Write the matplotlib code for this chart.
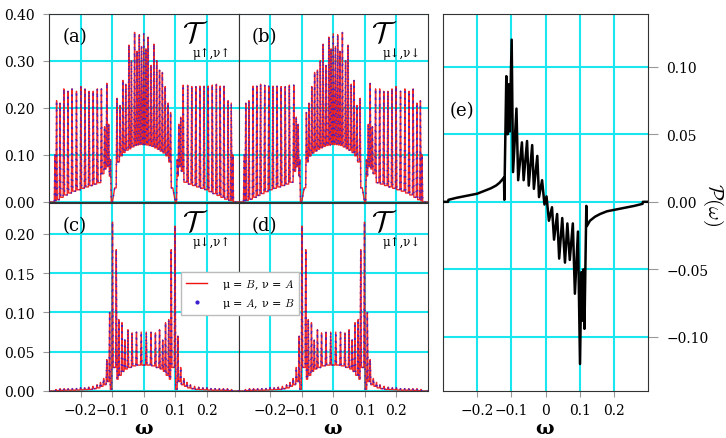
import numpy as np
import matplotlib
matplotlib.use("Agg")
import matplotlib.pyplot as plt
from matplotlib.lines import Line2D

plt.rcParams['font.family'] = 'DejaVu Serif'
plt.rcParams['mathtext.fontset'] = 'cm'

# panel (a): T_{up,up}, resonance peaks and the troughs between them
a_peak_w = [-0.281, -0.276, -0.265, -0.253, -0.240, -0.227, -0.213, -0.199, -0.186, -0.173, -0.160, -0.147,
            -0.134, -0.124, -0.117, -0.111, -0.105,
            -0.085, -0.075, -0.066, -0.057, -0.047, -0.039, -0.029, -0.021, -0.014, -0.007, 0.000, 0.007,
            0.014, 0.023, 0.032, 0.041, 0.050, 0.059, 0.068, 0.077, 0.085,
            0.106, 0.111, 0.117, 0.125, 0.139, 0.152, 0.165, 0.178, 0.191, 0.204, 0.217, 0.230, 0.242,
            0.254, 0.267, 0.277, 0.282]
a_peak_t = [0.100, 0.215, 0.210, 0.240, 0.235, 0.240, 0.235, 0.245, 0.240, 0.235, 0.235, 0.240,
            0.240, 0.160, 0.252, 0.165, 0.090,
            0.220, 0.205, 0.258, 0.250, 0.333, 0.300, 0.360, 0.320, 0.355, 0.330, 0.357, 0.325,
            0.350, 0.290, 0.335, 0.300, 0.280, 0.275, 0.245, 0.210, 0.190,
            0.090, 0.165, 0.180, 0.248, 0.248, 0.245, 0.245, 0.246, 0.246, 0.246, 0.248, 0.250, 0.246,
            0.246, 0.215, 0.210, 0.100]
a_trough_w = [-0.285, -0.279, -0.271, -0.259, -0.246, -0.233, -0.220, -0.206, -0.192, -0.179, -0.166, -0.153,
              -0.140, -0.129, -0.120, -0.114, -0.108, -0.099, -0.092,
              -0.080, -0.070, -0.061, -0.052, -0.043, -0.034, -0.025, -0.0175, -0.0105, -0.0035, 0.0035,
              0.0105, 0.0185, 0.0275, 0.0365, 0.0455, 0.0545, 0.0635, 0.0725, 0.081,
              0.092, 0.100, 0.1085, 0.114, 0.121, 0.132, 0.145, 0.158, 0.171, 0.184, 0.197, 0.210,
              0.223, 0.236, 0.248, 0.260, 0.272, 0.2795, 0.285]
a_trough_t = [0.0, 0.002, 0.005, 0.010, 0.015, 0.019, 0.023, 0.026, 0.029, 0.032, 0.035, 0.038,
              0.041, 0.060, 0.070, 0.075, 0.055, 0.0, 0.030,
              0.085, 0.098, 0.105, 0.110, 0.113, 0.117, 0.120, 0.121, 0.122, 0.122, 0.122,
              0.121, 0.120, 0.118, 0.115, 0.112, 0.108, 0.104, 0.098, 0.085,
              0.030, 0.0, 0.055, 0.075, 0.065, 0.042, 0.038, 0.035, 0.032, 0.029, 0.026, 0.022,
              0.018, 0.014, 0.010, 0.006, 0.003, 0.002, 0.0]

# panel (c): T_{down,up}
c_peak_w = [-0.278, -0.265, -0.252, -0.239, -0.226, -0.213, -0.200, -0.187, -0.174, -0.161, -0.148, -0.137, -0.127,
            -0.117, -0.108, -0.099, -0.087,
            -0.079, -0.069, -0.060, -0.050, -0.037, -0.023, -0.008, 0.008, 0.023, 0.037, 0.050, 0.060, 0.069, 0.079,
            0.087, 0.099, 0.108, 0.117,
            0.127, 0.137, 0.148, 0.161, 0.174, 0.187, 0.200, 0.213, 0.226, 0.239, 0.252, 0.265, 0.278]
c_peak_t = [0.002, 0.003, 0.003, 0.003, 0.003, 0.003, 0.004, 0.004, 0.005, 0.006, 0.008, 0.011, 0.016,
            0.040, 0.100, 0.215, 0.180,
            0.091, 0.087, 0.065, 0.078, 0.074, 0.075, 0.075, 0.075, 0.075, 0.074, 0.078, 0.065, 0.087, 0.091,
            0.180, 0.210, 0.070, 0.030,
            0.016, 0.011, 0.008, 0.006, 0.005, 0.004, 0.004, 0.003, 0.003, 0.003, 0.003, 0.003, 0.002]
c_trough_w = [-0.285, -0.2715, -0.2585, -0.2455, -0.2325, -0.2195, -0.2065, -0.1935, -0.1805, -0.1675, -0.1545,
              -0.1425, -0.132,
              -0.122, -0.1125, -0.1035, -0.093, -0.083,
              -0.074, -0.0645, -0.055, -0.0435, -0.030, -0.0155, 0.0, 0.0155, 0.030, 0.0435, 0.055, 0.0645, 0.074,
              0.083, 0.093, 0.1035, 0.1125, 0.122,
              0.132, 0.1425, 0.1545, 0.1675, 0.1805, 0.1935, 0.2065, 0.2195, 0.2325, 0.2455, 0.2585, 0.2715, 0.285]
c_trough_t = [0.0, 0.0005, 0.0008, 0.001, 0.001, 0.001, 0.0012, 0.0015, 0.0018, 0.002, 0.003,
              0.004, 0.006,
              0.008, 0.012, 0.002, 0.030, 0.015,
              0.020, 0.025, 0.028, 0.030, 0.032, 0.033, 0.033, 0.033, 0.032, 0.030, 0.028, 0.025, 0.020,
              0.015, 0.030, 0.002, 0.012, 0.008,
              0.006, 0.004, 0.003, 0.002, 0.0018, 0.0015, 0.0012, 0.001, 0.001, 0.001, 0.0008, 0.0005, 0.0]

# panel (e): P(omega)
e_w = [-0.300, -0.285, -0.284, -0.26, -0.24, -0.22, -0.20, -0.18, -0.16, -0.145, -0.135, -0.128, -0.1215, -0.1205,
       -0.1147, -0.111, -0.108, -0.105, -0.099, -0.095, -0.085, -0.080, -0.069, -0.064, -0.054, -0.049, -0.039,
       -0.034, -0.024, -0.019, -0.010, -0.003,
       0.003, 0.010, 0.019, 0.025, 0.034, 0.040, 0.049, 0.057, 0.064, 0.071, 0.080, 0.086, 0.095, 0.101, 0.105,
       0.108, 0.111, 0.114, 0.1195, 0.121,
       0.13, 0.145, 0.16, 0.18, 0.20, 0.22, 0.24, 0.26, 0.284, 0.285, 0.300]
e_p = [0.000, 0.000, 0.0015, 0.003, 0.004, 0.005, 0.006, 0.008, 0.010, 0.012, 0.014, 0.016, 0.018, 0.0015,
       0.093, 0.050, 0.087, 0.052, 0.120, 0.022, 0.069, 0.016, 0.044, 0.016, 0.045, 0.012, 0.042,
       0.0096, 0.034, 0.0035, 0.016, -0.002,
       0.004, -0.014, -0.004, -0.028, -0.009, -0.042, -0.012, -0.045, -0.016, -0.043, -0.016, -0.068, -0.022,
       -0.120, -0.052, -0.088, -0.050, -0.094, -0.003, -0.018,
       -0.014, -0.011, -0.009, -0.007, -0.006, -0.005, -0.004, -0.003, -0.0015, 0.000, 0.000]

xticks = [-0.2, -0.1, 0, 0.1, 0.2]
xticklabels = ['\u22120.2', '\u22120.1', '0', '0.1', '0.2']
top_yticks = [0.0, 0.1, 0.2, 0.3, 0.4]
bot_yticks = [0.0, 0.05, 0.10, 0.15, 0.20]
e_yticks = [-0.10, -0.05, 0.0, 0.05, 0.10]
e_yticklabels = ['\u22120.10', '\u22120.05', '0.00', '0.05', '0.10']

RED = '#f01010'
BLUE = '#3a1fd0'
CYAN = '#19e6ee'
SPIKE = 0.0022   # half width of a drawn resonance spike


def spectrum(pw, pt, tw, tt, flip=False):
    pw, pt = np.asarray(pw), np.asarray(pt)
    tw, tt = np.asarray(tw), np.asarray(tt)
    if flip:
        pw, tw = -pw, -tw
    o = np.argsort(tw)
    tw, tt = tw[o], tt[o]
    pts = [(w, t) for w, t in zip(tw, tt)]
    for w, t in zip(pw, pt):
        i = np.searchsorted(tw, w)
        lo = tt[i - 1] if i > 0 else 0.0
        hi = tt[i] if i < len(tt) else 0.0
        pts += [(w - SPIKE, lo), (w, t), (w + SPIKE, hi)]
    pts += [(-0.3, 0.0), (0.3, 0.0)]
    pts.sort(key=lambda p: p[0])
    w, t = zip(*pts)
    return np.array(w), np.array(t)


def style(ax, yticks, ylim):
    ax.set_xlim(-0.3, 0.3)
    ax.set_ylim(*ylim)
    ax.set_xticks(xticks)
    ax.set_yticks(yticks)
    ax.grid(True, color=CYAN, lw=1.5)
    ax.set_axisbelow(True)
    for s in ax.spines.values():
        s.set_color('#333333')
        s.set_linewidth(0.8)
    ax.tick_params(direction='out', length=4, color='#999999', labelsize=10, pad=6)
    ax.tick_params(axis='x', pad=5)


def draw_T(ax, w, t):
    ax.plot(w, t, color=RED, lw=1.0, alpha=0.9, zorder=3)
    ax.plot(w, t, color=BLUE, lw=1.3, alpha=0.9, linestyle=(0, (0.01, 3.6)),
            dash_capstyle='round', zorder=4)


fig = plt.figure(figsize=(7.26, 4.39), dpi=100)
L, W = 49 / 726, 189.5 / 726
H = 188.5 / 439
ax_a = fig.add_axes([L, 1 - 203 / 439, W, H])
ax_b = fig.add_axes([L + W, 1 - 203 / 439, W, H])
ax_c = fig.add_axes([L, 1 - 392 / 439, W, H])
ax_d = fig.add_axes([L + W, 1 - 392 / 439, W, H])
ax_e = fig.add_axes([443 / 726, 1 - 392 / 439, 205 / 726, 377 / 439])

wa, ta = spectrum(a_peak_w, a_peak_t, a_trough_w, a_trough_t)
wb, tb = spectrum(a_peak_w, a_peak_t, a_trough_w, a_trough_t, flip=True)
wc, tc = spectrum(c_peak_w, c_peak_t, c_trough_w, c_trough_t)
wd, td = spectrum(c_peak_w, c_peak_t, c_trough_w, c_trough_t, flip=True)

panels = [(ax_a, wa, ta, top_yticks, (0, 0.4), '(a)', '\u03bc\u2191,\u03bd\u2191'),
          (ax_b, wb, tb, top_yticks, (0, 0.4), '(b)', '\u03bc\u2193,\u03bd\u2193'),
          (ax_c, wc, tc, bot_yticks, (0, 0.24), '(c)', '\u03bc\u2193,\u03bd\u2191'),
          (ax_d, wd, td, bot_yticks, (0, 0.24), '(d)', '\u03bc\u2191,\u03bd\u2193')]

for ax, w, t, yt, yl, tag, sub in panels:
    style(ax, yt, yl)
    draw_T(ax, w, t)
    ax.text(0.07, 0.93, tag, transform=ax.transAxes, fontsize=13, va='top')
    ax.text(0.70, 0.97, r'$\mathcal{T}$', transform=ax.transAxes, fontsize=21, va='top')
    ax.text(0.76, 0.83, sub, transform=ax.transAxes, fontsize=8.5, va='top')

for ax in (ax_a, ax_b):
    ax.tick_params(axis='x', labelbottom=False, length=0)
for ax in (ax_b, ax_d):
    ax.tick_params(axis='y', labelleft=False, length=0)
ax_a.set_yticklabels(['%.2f' % v for v in top_yticks])
ax_c.set_yticklabels(['%.2f' % v for v in bot_yticks])
ax_c.set_xticklabels(xticklabels)
ax_d.set_xticklabels(xticklabels)

# panel (e)
style(ax_e, e_yticks, (-0.14, 0.139))
ax_e.plot(e_w, e_p, color='black', lw=1.8, zorder=3)
ax_e.set_xticklabels(xticklabels)
ax_e.yaxis.tick_right()
ax_e.set_yticklabels(e_yticklabels)
ax_e.tick_params(axis='y', length=7, pad=6)
fig.text(713 / 726, 1 - 205 / 439, r'$\mathcal{P}(\omega)$', fontsize=15, rotation=270,
         ha='center', va='center')
ax_e.text(0.03, 0.77, '(e)', transform=ax_e.transAxes, fontsize=13, va='top')

# omega labels under each column
for xc in (144, 333, 545):
    fig.text(xc / 726, 1 - 429 / 439, r'$\mathbf{\omega}$', fontsize=14,
             math_fontfamily='dejavuserif', ha='center', va='center')

handles = [Line2D([], [], color=RED, lw=1.0),
           Line2D([], [], color=BLUE, marker='.', ms=4, lw=0)]
labels = ['\u03bc = $B$, \u03bd = $A$', '\u03bc = $A$, \u03bd = $B$']
fig.legend(handles, labels, loc='upper left', bbox_to_anchor=(181 / 726, 1 - 273 / 439),
           fontsize=8, frameon=True, fancybox=False, edgecolor='#bbbbbb', framealpha=1,
           handlelength=1.9, borderpad=0.45, labelspacing=0.45, handletextpad=1.3,
           borderaxespad=0)

fig.savefig('out.png', dpi=100, facecolor='white')
